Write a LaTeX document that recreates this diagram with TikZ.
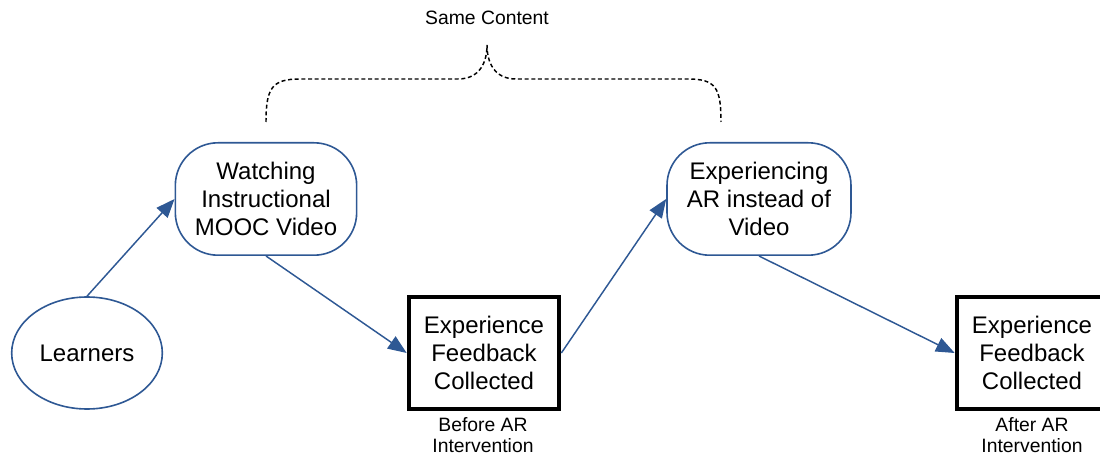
\documentclass[tikz,border=0pt]{standalone}
\usepackage{fontspec}
\setmainfont{Liberation Sans}
\usetikzlibrary{shapes.geometric, arrows.meta}
\definecolor{flowblue}{RGB}{46,88,148}

\begin{document}
\begin{tikzpicture}
        [x=0.75pt, y=-0.75pt,
        every node/.style={align=center, text=black, inner sep=0, font=\fontsize{18}{21}\selectfont},
        learner/.style={draw=flowblue, line width=1.2pt, shape=ellipse, minimum width=113pt, minimum height=84pt},
        stage/.style={draw=flowblue, line width=1.2pt, rounded corners=32pt, minimum height=84.3pt},
        feedback/.style={draw=black, line width=3pt, minimum width=113pt, minimum height=84pt},
        note/.style={font=\fontsize{14.5}{15.5}\selectfont},
        flow/.style={draw=flowblue, line width=1.1pt, -{Triangle[length=14pt, width=11pt]}}]

        \useasboundingbox (0, 0) rectangle (1100, 456);

        \node[learner] (learners) at (87, 353) {Learners};
        \node[stage, minimum width=136pt] (watching) at (266, 199) {Watching\\Instructional\\MOOC Video};
        \node[feedback] (before) at (484, 353) {Experience\\Feedback\\Collected};
        \node[stage, minimum width=138pt] (experiencing) at (759, 199) {Experiencing\\AR instead of\\Video};
        \node[feedback] (after) at (1032, 353) {Experience\\Feedback\\Collected};

        \node[note] (beforenote) at (483, 435) {Before AR\\Intervention};
        \node[note] (afternote) at (1032, 435) {After AR\\Intervention};
        \node[note] (same) at (487, 18) {Same Content};

        % brace over both stages
        \draw[dash pattern=on 3pt off 2pt, line width=1.1pt] (266, 122) .. controls (266, 88) and (272, 79) .. (300, 79) -- (458, 79)
          .. controls (480, 79) and (487, 62) .. (487, 45) .. controls (487, 62) and (494, 79) .. (516, 79) -- (688, 79)
          .. controls (716, 79) and (721, 88) .. (721, 122);

        \draw[flow] (learners.north) -- (watching.west);
        \draw[flow] (watching.south) -- (before.west);
        \draw[flow] (before.east) -- (experiencing.west);
        \draw[flow] (experiencing.south) -- (after.west);
      \end{tikzpicture}
\end{document}
